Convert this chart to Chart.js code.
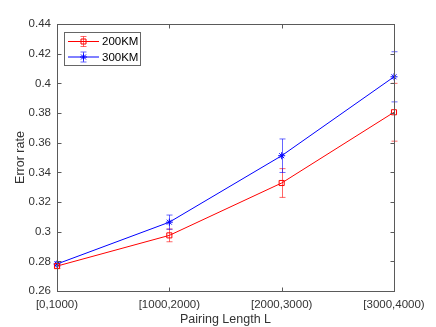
<!DOCTYPE html>
<html>
<head>
<meta charset="utf-8">
<script src="https://cdn.jsdelivr.net/npm/chart.js@4/dist/chart.umd.min.js"></script>
<style>
  html, body { margin: 0; padding: 0; background: #fff; }
  #wrap { width: 436px; height: 327px; }
</style>
</head>
<body>
<div id="wrap"><canvas id="errChart"></canvas></div>
<script>
// data
const lengthBins = ['[0,1000)', '[1000,2000)', '[2000,3000)', '[3000,4000)'];
const err200 = [0.2768, 0.2975, 0.3328, 0.3805];
const err200Dev = [0.0015, 0.0043, 0.0097, 0.0195];
const err300 = [0.2782, 0.3064, 0.3512, 0.4044];
const err300Dev = [0.0015, 0.0048, 0.0113, 0.0169];
const yTicks = [0.26, 0.28, 0.3, 0.32, 0.34, 0.36, 0.38, 0.4, 0.42, 0.44];

const RED = 'rgb(255,0,0)';
const BLUE = 'rgb(0,0,255)';
const AXIS = '#5a5a5a';
const TXT = '#333';
const FONT = '"Liberation Sans", Arial, Helvetica, sans-serif';

// error bars, drawn through the chart scales
const errorBars = {
  id: 'errorBars',
  beforeDatasetsDraw(chart) {
    const ctx = chart.ctx;
    const x = chart.scales.x, y = chart.scales.y;
    chart.data.datasets.forEach(ds => {
      ctx.save();
      ctx.strokeStyle = ds.errColor;
      ctx.lineWidth = 1;
      ds.data.forEach((v, i) => {
        const px = Math.round(x.getPixelForValue(i)) + 0.5;
        const top = y.getPixelForValue(v + ds.dev[i]);
        const bot = y.getPixelForValue(v - ds.dev[i]);
        ctx.beginPath();
        ctx.moveTo(px, top); ctx.lineTo(px, bot);
        ctx.moveTo(px - 3, top); ctx.lineTo(px + 3, top);
        ctx.moveTo(px - 3, bot); ctx.lineTo(px + 3, bot);
        ctx.stroke();
      });
      ctx.restore();
    });
  }
};

// matlab style box with inward ticks + legend box
const boxAndLegend = {
  id: 'boxAndLegend',
  afterDraw(chart) {
    const ctx = chart.ctx;
    const a = chart.chartArea;
    const x = chart.scales.x, y = chart.scales.y;
    const L = Math.round(a.left) + 0.5, R = Math.round(a.right) + 0.5;
    const T = Math.round(a.top) + 0.5, B = Math.round(a.bottom) + 0.5;
    ctx.save();
    ctx.strokeStyle = AXIS;
    ctx.lineWidth = 1;
    ctx.strokeRect(L, T, R - L, B - T);
    ctx.beginPath();
    yTicks.forEach(v => {
      const py = Math.round(y.getPixelForValue(v)) + 0.5;
      ctx.moveTo(L, py); ctx.lineTo(L + 4, py);
      ctx.moveTo(R, py); ctx.lineTo(R - 4, py);
    });
    lengthBins.forEach((_, i) => {
      const px = Math.round(x.getPixelForValue(i)) + 0.5;
      ctx.moveTo(px, B); ctx.lineTo(px, B - 4);
      ctx.moveTo(px, T); ctx.lineTo(px, T + 4);
    });
    ctx.stroke();

    // legend
    const lx = 64.5, ly = 32.5, lw = 76, lh = 33;
    ctx.fillStyle = '#fff';
    ctx.fillRect(lx, ly, lw, lh);
    ctx.strokeStyle = '#666';
    ctx.strokeRect(lx, ly, lw, lh);
    ctx.font = '11.5px ' + FONT;
    ctx.textBaseline = 'middle';
    chart.data.datasets.forEach((ds, k) => {
      const cy = 41.5 + k * 15.5;
      ctx.strokeStyle = ds.borderColor;
      ctx.beginPath();
      ctx.moveTo(68, cy); ctx.lineTo(99, cy);
      ctx.stroke();
      ctx.strokeStyle = ds.errColor;
      ctx.beginPath();
      ctx.moveTo(83.5, cy - 5); ctx.lineTo(83.5, cy + 5);
      ctx.moveTo(80.5, cy - 5); ctx.lineTo(86.5, cy - 5);
      ctx.moveTo(80.5, cy + 5); ctx.lineTo(86.5, cy + 5);
      ctx.stroke();
      ctx.strokeStyle = ds.borderColor;
      ctx.lineWidth = 1;
      ctx.beginPath();
      if (ds.pointStyle === 'rect') {
        ctx.rect(81, cy - 2.5, 5, 5);
      } else {
        ctx.moveTo(83.5, cy - 3.5); ctx.lineTo(83.5, cy + 3.5);
        ctx.moveTo(80, cy); ctx.lineTo(87, cy);
        ctx.moveTo(81, cy - 2.5); ctx.lineTo(86, cy + 2.5);
        ctx.moveTo(81, cy + 2.5); ctx.lineTo(86, cy - 2.5);
      }
      ctx.stroke();
      ctx.fillStyle = '#000';
      ctx.textAlign = 'left';
      ctx.fillText(ds.label, 102, cy + 0.5);
    });
    ctx.restore();
  }
};

document.addEventListener("DOMContentLoaded", () => {
  const ctx = document.getElementById('errChart').getContext('2d');
  new Chart(ctx, {
    type: 'line',
    data: {
      labels: lengthBins,
      datasets: [
        {
          label: '200KM',
          data: err200,
          dev: err200Dev,
          errColor: 'rgba(255,0,0,0.6)',
          borderColor: RED,
          backgroundColor: 'transparent',
          borderWidth: 1,
          pointStyle: 'rect',
          pointRadius: 3.6,
          pointBorderWidth: 1,
          pointBorderColor: RED,
          pointBackgroundColor: 'transparent',
          tension: 0
        },
        {
          label: '300KM',
          data: err300,
          dev: err300Dev,
          errColor: 'rgba(0,0,255,0.6)',
          borderColor: BLUE,
          backgroundColor: 'transparent',
          borderWidth: 1,
          pointStyle: 'star',
          pointRadius: 3.5,
          pointBorderWidth: 1,
          pointBorderColor: BLUE,
          pointBackgroundColor: 'transparent',
          tension: 0
        }
      ]
    },
    options: {
      responsive: true,
      maintainAspectRatio: false,
      animation: false,
      events: [],
      layout: { padding: { top: 24, right: 42, left: 13, bottom: 0 } },
      plugins: {
        legend: { display: false },
        tooltip: { enabled: false }
      },
      scales: {
        x: {
          type: 'category',
          offset: false,
          grid: { display: false, drawTicks: false },
          border: { display: false },
          ticks: {
            color: TXT,
            font: { family: FONT, size: 11.5 },
            padding: 7,
            maxRotation: 0,
            autoSkip: false
          },
          title: {
            display: true,
            text: 'Pairing Length L',
            color: TXT,
            font: { family: FONT, size: 12.5 },
            padding: { top: 2, bottom: 0 }
          },
          afterFit: s => { s.height = 36; }
        },
        y: {
          min: 0.26,
          max: 0.44,
          afterBuildTicks: s => { s.ticks = yTicks.map(v => ({ value: v })); },
          grid: { display: false, drawTicks: false },
          border: { display: false },
          ticks: {
            color: TXT,
            font: { family: FONT, size: 11.5 },
            padding: 6,
            callback: v => String(Number(v.toFixed(2)))
          },
          title: {
            display: true,
            text: 'Error rate',
            color: TXT,
            font: { family: FONT, size: 12.5 },
            padding: { top: 0, bottom: 4 }
          },
          afterFit: s => { s.width = 44; }
        }
      }
    },
    plugins: [errorBars, boxAndLegend]
  });
});
</script>
</body>
</html>
